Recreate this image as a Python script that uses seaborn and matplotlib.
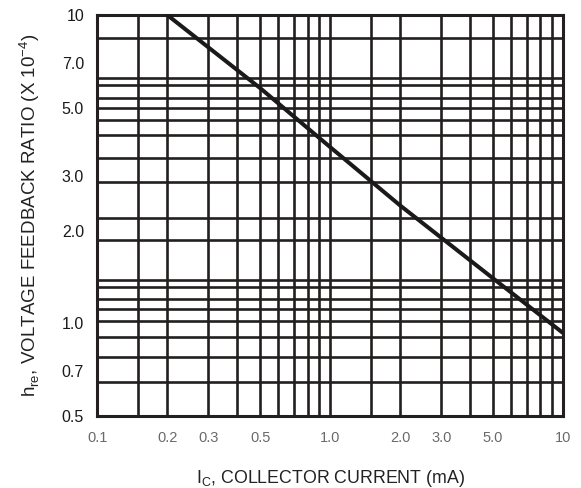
import matplotlib
matplotlib.use("Agg")
import matplotlib.pyplot as plt
import seaborn as sns
import pandas as pd

# Curve data: Ic (mA) vs hre (x 10^-4)
ic_ma = [0.2, 0.5, 1.0, 2.0, 5.0, 10.0]
hre = [10.0, 5.8, 3.73, 2.41, 1.40, 0.93]

# Tick labels
x_ticks = [0.1, 0.2, 0.3, 0.5, 1.0, 2.0, 3.0, 5.0, 10.0]
x_tick_labels = ["0.1", "0.2", "0.3", "0.5", "1.0", "2.0", "3.0", "5.0", "10"]
y_ticks = [0.5, 0.7, 1.0, 2.0, 3.0, 5.0, 7.0, 10.0]
y_tick_labels = ["0.5", "0.7", "1.0", "2.0", "3.0", "5.0", "7.0", "10"]

# Grid lines as drawn on the chart (data units)
x_grid = [0.15, 0.2, 0.3, 0.4, 0.5, 0.6, 0.7, 0.8, 0.9, 1.0,
          1.5, 2.0, 3.0, 4.0, 5.0, 6.0, 7.0, 8.0, 9.0]
y_grid = [8.44, 6.26, 5.93, 5.39, 4.98, 4.56, 4.08, 3.44, 2.88, 2.20,
          1.86, 1.38, 1.31, 1.196, 1.112, 1.019, 0.904, 0.775, 0.643]

sns.set_style("white")
plt.rcParams["font.family"] = ["Liberation Sans", "DejaVu Sans"]

fig = plt.figure(figsize=(5.81, 4.88), dpi=100)
ax = fig.add_axes([0.1675, 0.1475, 0.8015, 0.8215])

ax.set_xscale("log")
ax.set_yscale("log")
ax.set_xlim(0.1, 10)
ax.set_ylim(0.5, 10)

grid_color = "#231f20"
for xv in x_grid:
    ax.axvline(xv, color=grid_color, lw=1.9, zorder=1)
for yv in y_grid:
    ax.axhline(yv, color=grid_color, lw=1.9, zorder=1)

df = pd.DataFrame({"Ic": ic_ma, "hre": hre})
sns.lineplot(data=df, x="Ic", y="hre", ax=ax, color="#1a1a1a", lw=2.9, zorder=3)

for s in ax.spines.values():
    s.set_color(grid_color)
    s.set_linewidth(2.2)
    s.set_visible(True)

ax.xaxis.set_minor_locator(matplotlib.ticker.NullLocator())
ax.yaxis.set_minor_locator(matplotlib.ticker.NullLocator())
ax.set_xticks(x_ticks)
ax.set_xticklabels(x_tick_labels, color="#6a6a6a", fontsize=10.5)
ax.set_yticks(y_ticks)
ax.set_yticklabels(y_tick_labels, color="#1a1a1a", fontsize=11.5)
ax.tick_params(axis="both", length=0)
ax.tick_params(axis="x", pad=11)
ax.tick_params(axis="y", pad=9.5)

ax.set_xlabel(r"I$_\mathregular{C}$, COLLECTOR CURRENT (mA)", fontsize=12.8,
              color="#222222", labelpad=16)
ax.set_ylabel(r"h$_\mathregular{re}$, VOLTAGE FEEDBACK RATIO (X 10$^\mathregular{-4}$)",
              fontsize=13.5, color="#222222", labelpad=14)

fig.savefig("out.png", dpi=100, facecolor="white")
